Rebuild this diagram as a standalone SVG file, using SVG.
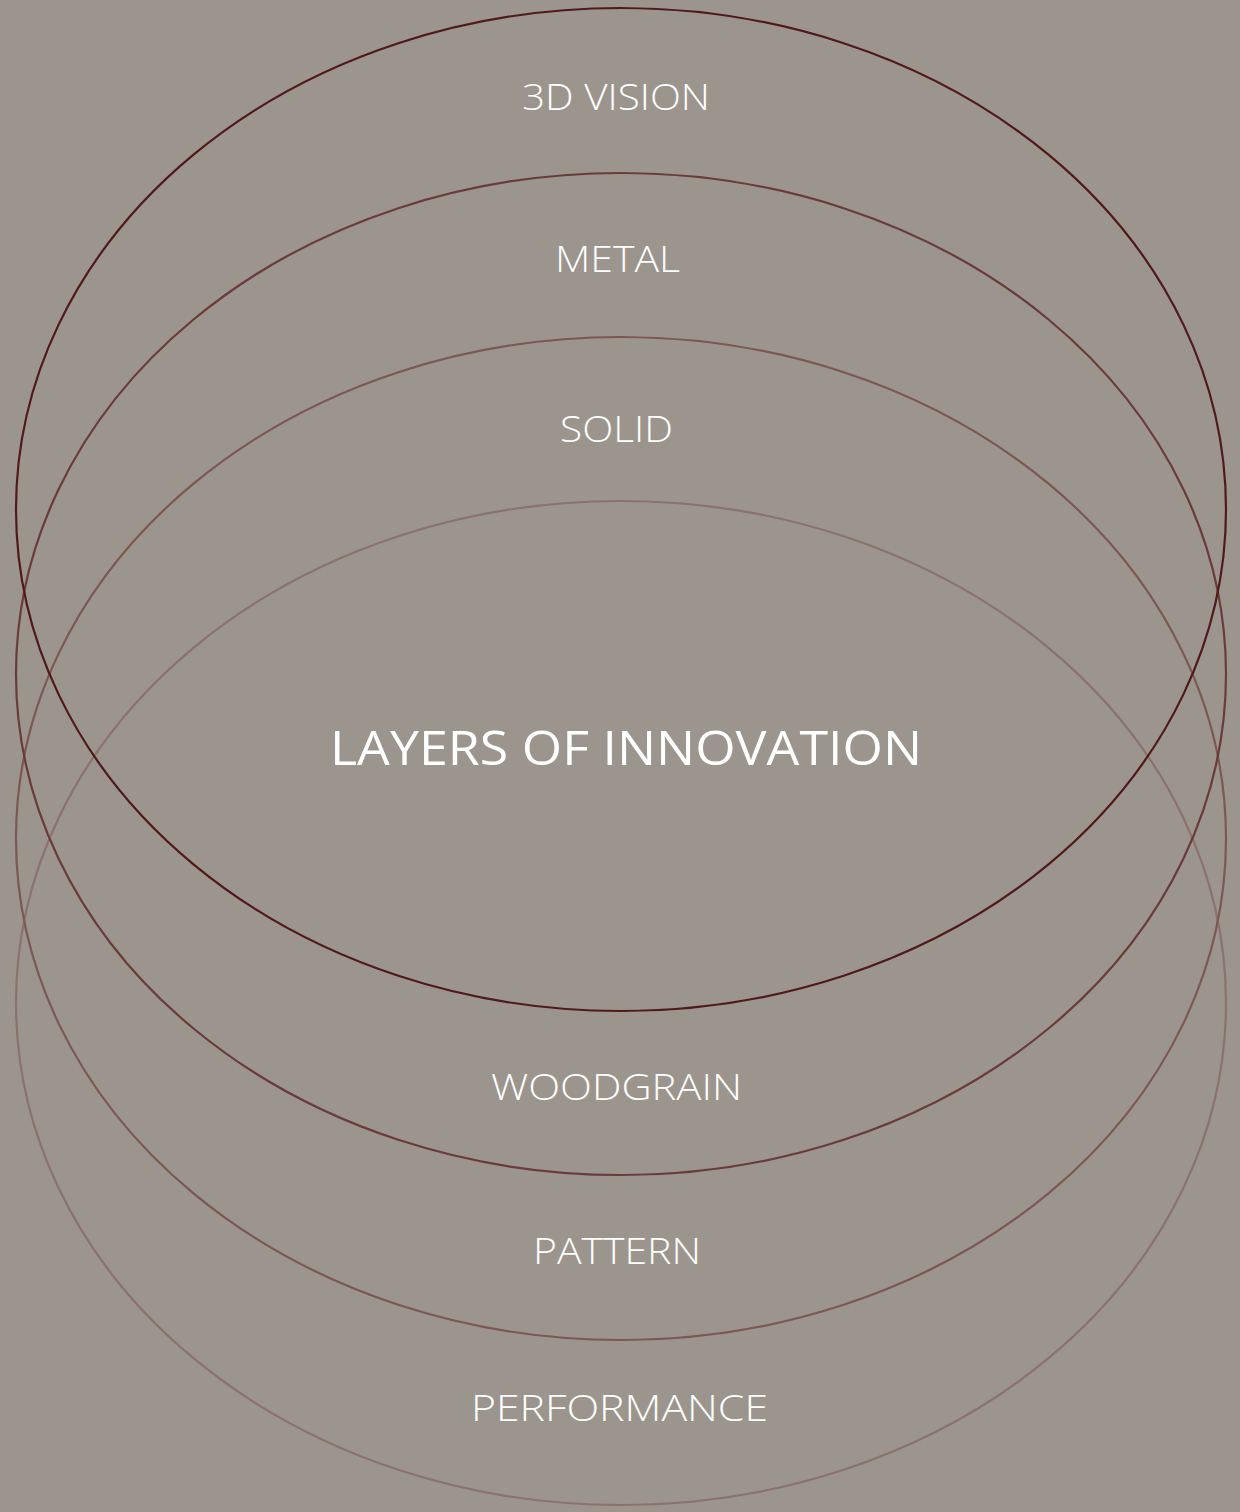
<svg xmlns="http://www.w3.org/2000/svg" width="1240" height="1512" viewBox="0 0 1240 1512">
<style>
.ring{fill:none;stroke-width:2.2}
.lbl{font-family:"Open Sans","Noto Sans","Liberation Sans",sans-serif;font-weight:300;font-size:36px;fill:#ffffff;text-anchor:middle}
.title{font-family:"Open Sans","Noto Sans","Liberation Sans",sans-serif;font-weight:400;font-size:47px;fill:#ffffff;text-anchor:middle}
</style>
<rect x="0" y="0" width="1240" height="1512" fill="#9c958d"/>
<g id="rings">
<g id="ring-performance"><ellipse class="ring" cx="621" cy="1003" rx="605" ry="502" stroke="#8a736c"/></g>
<g id="ring-pattern"><ellipse class="ring" cx="621" cy="838.5" rx="605" ry="501.5" stroke="#7b5852"/></g>
<g id="ring-woodgrain"><ellipse class="ring" cx="621" cy="674" rx="605" ry="501" stroke="#693c39"/></g>
<g id="ring-3dvision"><ellipse class="ring" cx="621" cy="509.5" rx="605" ry="501.5" stroke="#4f1a1a"/></g>
</g>
<g id="labels">
<text id="t-3dvision" class="lbl" x="616" y="110" textLength="188" lengthAdjust="spacingAndGlyphs">3D VISION</text>
<text id="t-metal" class="lbl" x="617.5" y="272" textLength="125" lengthAdjust="spacingAndGlyphs">METAL</text>
<text id="t-solid" class="lbl" x="616.5" y="442" textLength="113" lengthAdjust="spacingAndGlyphs">SOLID</text>
<text id="t-title" class="title" x="626" y="765" textLength="592" lengthAdjust="spacingAndGlyphs">LAYERS OF INNOVATION</text>
<text id="t-woodgrain" class="lbl" x="616.5" y="1100" textLength="251" lengthAdjust="spacingAndGlyphs">WOODGRAIN</text>
<text id="t-pattern" class="lbl" x="617" y="1264" textLength="168" lengthAdjust="spacingAndGlyphs">PATTERN</text>
<text id="t-performance" class="lbl" x="619.5" y="1421" textLength="297" lengthAdjust="spacingAndGlyphs">PERFORMANCE</text>
</g>
</svg>
